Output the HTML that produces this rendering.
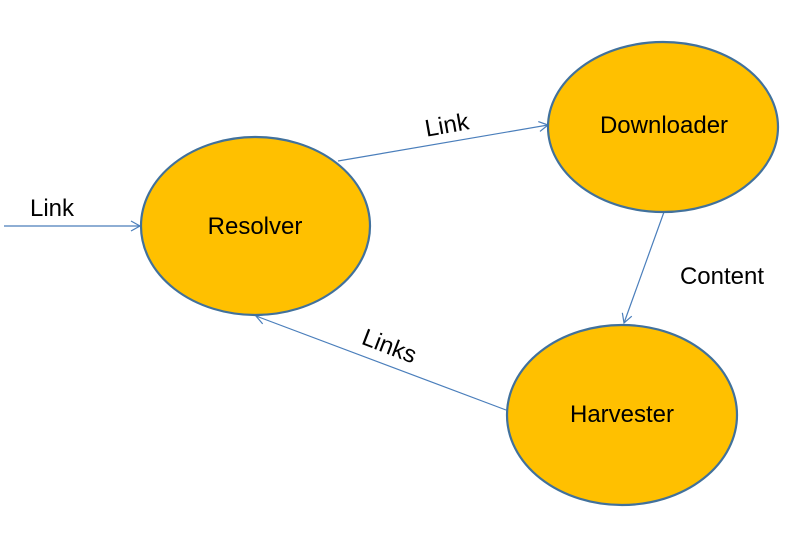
<!DOCTYPE html>
<html><head><meta charset="utf-8"><style>
html,body{margin:0;padding:0;background:#fff;width:800px;height:535px;overflow:hidden}
text{font-family:"Liberation Sans",sans-serif;fill:#000}
</style></head><body>
<svg width="800" height="535" viewBox="0 0 800 535" xmlns="http://www.w3.org/2000/svg">
<defs>
<marker id="a" markerWidth="12" markerHeight="12" refX="10" refY="6" orient="auto" markerUnits="userSpaceOnUse">
<path d="M1,1 L10,6 L1,11" fill="none" stroke="#4a7ebb" stroke-width="1.2"/>
</marker>
</defs>
<g stroke="#4a7ebb" stroke-width="1.2" fill="none">
<line x1="4" y1="226" x2="140" y2="226" marker-end="url(#a)"/>
<line x1="338" y1="161" x2="548" y2="125" marker-end="url(#a)"/>
<line x1="664" y1="212" x2="624" y2="323" marker-end="url(#a)"/>
<line x1="506" y1="410" x2="256" y2="316" marker-end="url(#a)"/>
</g>
<g fill="#ffc000" stroke="#41719c" stroke-width="2.2">
<ellipse cx="255.5" cy="226" rx="114.5" ry="89"/>
<ellipse cx="663" cy="127" rx="115" ry="85"/>
<ellipse cx="622" cy="415" rx="115" ry="90"/>
</g>
<g font-size="24" text-anchor="middle">
<text x="255" y="234">Resolver</text>
<text x="664" y="133">Downloader</text>
<text x="622" y="422">Harvester</text>
<text x="52" y="216">Link</text>
<text x="722" y="284">Content</text>
<text x="447" y="133" transform="rotate(-10 447 126)">Link</text>
<text x="389" y="354" transform="rotate(21 389 347)">Links</text>
</g>
</svg>
</body></html>
